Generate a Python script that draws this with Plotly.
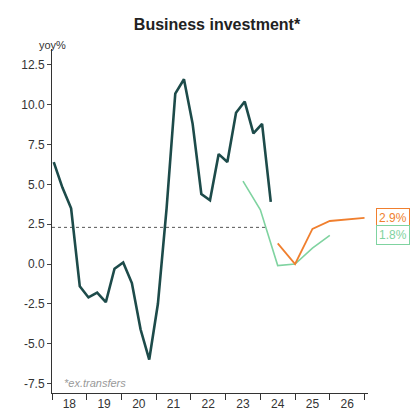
import plotly.graph_objects as go

actual = [6.4, 4.8, 3.5, -1.4, -2.1, -1.8, -2.4, -0.3, 0.1, -1.2, -4.1, -6.0, -2.5, 3.5,
          10.7, 11.6, 8.8, 4.4, 4.0, 6.9, 6.4, 9.5, 10.2, 8.2, 8.8, 3.9]
actual_x = [2018.05 + 0.25 * i for i in range(len(actual))]
green_x = [2023.5, 2024.0, 2024.5, 2025.0, 2025.5, 2026.0]
green = [5.2, 3.4, -0.1, 0.0, 1.0, 1.8]
orange_x = [2024.5, 2025.0, 2025.5, 2026.0, 2027.0]
orange = [1.3, 0.0, 2.2, 2.7, 2.9]
avg_level = 2.3
years = ["18", "19", "20", "21", "22", "23", "24", "25", "26"]
yticks = [12.5, 10.0, 7.5, 5.0, 2.5, 0.0, -2.5, -5.0, -7.5]

fig = go.Figure()
fig.add_trace(go.Scatter(x=[2018, 2024.2], y=[avg_level, avg_level], mode="lines",
                         line=dict(color="#555", width=1, dash="dot")))
fig.add_trace(go.Scatter(x=actual_x, y=actual, mode="lines", line=dict(color="#1d4b4a", width=2.6)))
fig.add_trace(go.Scatter(x=green_x, y=green, mode="lines", line=dict(color="#7fd3a0", width=1.6)))
fig.add_trace(go.Scatter(x=orange_x, y=orange, mode="lines", line=dict(color="#f07f2e", width=1.8)))

fig.add_annotation(x=1.0, xref="paper", xanchor="left", y=orange[-1], text="2.9%", showarrow=False,
                   font=dict(color="#f07f2e", size=12), bordercolor="#f07f2e", borderwidth=1,
                   bgcolor="white", borderpad=2, xshift=8)
fig.add_annotation(x=1.0, xref="paper", xanchor="left", y=green[-1], text="1.8%", showarrow=False,
                   font=dict(color="#7fd3a0", size=12), bordercolor="#7fd3a0", borderwidth=1,
                   bgcolor="white", borderpad=2, xshift=8)
fig.add_annotation(x=2018.3, y=-7.5, text="*ex.transfers", showarrow=False, xanchor="left",
                   font=dict(color="#999", size=11, style="italic"))
fig.add_annotation(x=0, xref="paper", y=1.0, yref="paper", text="yoy%", showarrow=False,
                   xanchor="center", yanchor="bottom", font=dict(size=11, color="#333"), yshift=-4)

fig.update_layout(
    width=418, height=415, showlegend=False, plot_bgcolor="white", paper_bgcolor="white",
    margin=dict(l=44, r=58, t=41, b=27),
    title=dict(text="<b>Business investment*</b>", x=0.5, y=0.975, xanchor="center",
               font=dict(size=16, color="#222", family="Arial")),
    font=dict(family="Arial", color="#333", size=12),
    xaxis=dict(range=[2018, 2027.1], tickvals=[y + 0.5 for y in range(2018, 2027)], ticktext=years,
               ticks="", showgrid=False, zeroline=False, showline=True, linecolor="#333",
               minor=dict(tickvals=list(range(2018, 2028)), ticks="outside", ticklen=6, tickcolor="#333")),
    yaxis=dict(range=[-8.1, 13.5], tickvals=yticks, ticktext=[f"{v:.1f}" for v in yticks],
               ticks="outside", ticklen=4, showgrid=False, zeroline=False, showline=True, linecolor="#333"),
)
fig.write_html("out.html")
